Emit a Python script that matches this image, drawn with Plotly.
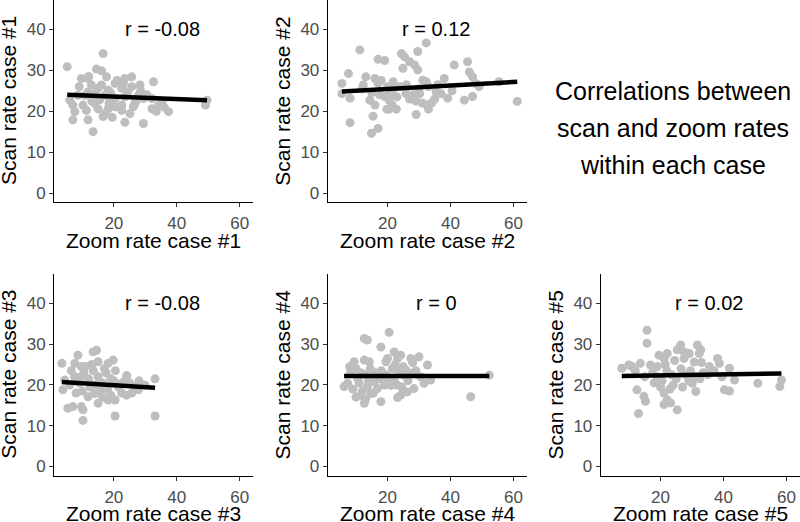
import plotly.graph_objects as go

# ---------------- data ----------------
zoom1 = [16.6, 5.2, 14.5, 16.1, 9.7, 11.8, 17.7, 23.5, 25.7, 32.6, 28.3, 20.4, 49.6, 49.1, 37.4, 32.1, 34.2, 29.4, 23.5, 13.4,
         7.0, 11.8, 16.6, 7.0, 7.6, 6.0, 10.2, 14.0, 20.4, 22.5, 26.2, 32.1, 35.3, 27.8, 15.0, 18.2, 22.5, 12.9, 25.7, 10.8,
         14.0, 17.2, 11.8, 16.1, 23.5, 20.4, 8.6, 11.3, 15.0, 18.2, 17.2, 26.7, 29.4, 25.1, 22.5,
         13.0, 19.0, 24.5, 21.0, 30.5, 9.0, 12.0, 27.0, 18.5, 33.5, 19.5, 15.5, 23.0, 28.5, 36.0]
scan1 = [34.1, 30.9, 30.3, 29.9, 28.0, 28.0, 28.4, 28.0, 28.4, 27.2, 26.4, 26.8, 22.7, 21.5, 19.9, 20.6, 21.5, 17.0, 17.3, 15.0,
         17.9, 17.9, 18.7, 21.5, 19.9, 22.7, 21.5, 21.9, 21.1, 21.5, 21.1, 23.1, 22.3, 23.9, 25.6, 25.2, 25.6, 26.4, 26.0, 23.9,
         24.3, 23.9, 24.7, 26.4, 23.5, 23.1, 23.9, 20.2, 20.6, 20.6, 19.4, 21.9, 23.1, 19.4, 20.2,
         22.5, 24.5, 24.8, 27.5, 24.0, 26.0, 28.5, 22.5, 22.0, 20.0, 18.5, 22.8, 26.8, 25.0, 21.0]

zoom2 = [32.3, 11.2, 24.4, 25.4, 29.6, 17.0, 19.1, 27.0, 28.6, 24.9, 29.6, 41.2, 45.4, 46.0, 47.0, 7.6, 5.5, 13.1, 16.0, 17.0,
         21.8, 31.2, 32.3, 38.0, 55.4, 48.0, 49.1, 8.1, 14.4, 16.0, 17.5, 19.1, 20.5, 21.5, 20.5, 22.8, 19.8, 25.9, 28.1, 30.2,
         27.0, 29.0, 31.0, 32.5, 34.0, 33.0, 35.4, 37.0, 39.1, 44.4, 47.0, 61.2, 15.4, 29.1, 8.1, 14.9, 17.0, 5.5, 12.3,
         22.0, 24.0, 26.0, 23.0, 21.0, 33.0, 36.0, 18.0, 15.0, 30.0, 40.5, 35.0, 12.0, 20.0]
scan2 = [36.7, 35.0, 34.1, 33.3, 34.6, 32.7, 32.4, 32.1, 31.3, 30.5, 30.1, 31.3, 32.1, 29.6, 28.4, 29.2, 26.8, 28.4, 28.0, 26.8,
         27.2, 27.6, 27.2, 28.0, 27.2, 26.8, 26.0, 23.2, 22.7, 21.5, 24.0, 23.6, 22.7, 21.5, 20.5, 20.5, 20.5, 24.3, 24.0, 24.3,
         23.0, 22.5, 22.0, 21.5, 22.0, 20.5, 24.8, 24.3, 23.2, 22.7, 23.6, 22.4, 18.8, 19.2, 17.2, 14.6, 15.8, 24.3, 26.4,
         25.5, 26.0, 26.5, 23.5, 24.5, 26.0, 26.5, 27.5, 24.5, 25.5, 25.0, 23.0, 25.5, 26.0]

zoom3 = [13.4, 14.5, 8.6, 3.5, 7.6, 9.7, 15.0, 18.2, 19.8, 24.1, 33.1, 29.9, 3.8, 4.4, 5.4, 7.0, 9.7, 10.2, 10.2, 20.4,
         33.1, 22.5, 25.7, 27.8, 15.0, 18.2, 20.4, 11.8, 13.9, 22.5, 26.7,
         6.0, 7.5, 9.0, 10.5, 12.0, 13.5, 15.0, 16.5, 17.5, 19.0, 20.5, 21.5, 12.5, 14.0, 16.0, 18.0, 8.0, 10.0, 11.0, 17.0,
         23.5, 25.0, 28.0, 20.0, 6.5, 9.5, 13.0, 16.5, 19.0, 24.0]
scan3 = [28.1, 28.5, 27.3, 25.3, 25.3, 24.5, 25.7, 25.3, 26.1, 22.3, 21.5, 19.9, 18.8, 21.2, 14.3, 14.7, 14.7, 13.9, 11.3, 12.4,
         12.4, 18.0, 18.0, 18.8, 15.5, 16.3, 16.3, 17.1, 17.9, 20.4, 19.6,
         20.0, 22.0, 20.5, 23.0, 21.5, 23.5, 22.0, 20.5, 23.0, 21.5, 23.5, 19.5, 19.5, 20.0, 18.5, 19.0, 18.0, 18.5, 24.5, 24.0,
         21.0, 20.5, 21.0, 21.0, 23.5, 22.0, 25.0, 17.0, 17.5, 17.5]

zoom4 = [20.5, 12.6, 13.6, 17.9, 22.1, 24.2, 23.2, 20.0, 19.5, 27.4, 30.0, 32.7, 9.4, 12.6, 14.2, 31.6, 33.7, 52.3, 46.4, 6.2,
         12.6, 17.9, 23.2, 24.2, 11.5, 14.7, 26.3, 28.4, 8.3, 10.5, 15.8, 20.0, 22.1, 25.3, 27.9, 7.3, 13.6, 16.8, 21.1,
         8.0, 10.0, 11.5, 13.0, 14.5, 16.0, 18.0, 19.5, 21.5, 23.5, 25.0, 26.5, 29.0, 30.5, 9.0, 11.0, 12.0, 14.0, 17.5, 19.0,
         23.0, 24.5, 26.0, 28.0, 22.5, 10.0, 13.0, 15.5]
scan4 = [32.9, 31.4, 31.0, 29.3, 28.1, 27.3, 26.5, 26.5, 25.7, 26.5, 26.9, 24.9, 25.7, 26.1, 25.7, 20.4, 21.2, 22.4, 17.1, 19.6,
         15.5, 15.9, 16.9, 17.5, 17.5, 17.9, 18.3, 19.1, 23.2, 21.6, 20.8, 21.6, 21.2, 22.4, 22.8, 20.4, 19.6, 19.1, 19.9,
         24.5, 24.0, 23.0, 22.5, 24.0, 23.0, 23.5, 22.5, 24.0, 23.5, 24.5, 21.0, 23.5, 22.0, 19.0, 20.5, 18.5, 21.0, 21.5, 20.0,
         20.0, 19.5, 23.5, 25.5, 25.0, 17.0, 16.5, 18.0]

zoom5 = [15.7, 15.7, 26.4, 25.3, 31.7, 32.8, 32.3, 29.1, 27.5, 22.1, 19.5, 21.1, 30.7, 38.1, 38.7, 41.9, 35.5, 7.7, 9.9, 13.6,
         16.8, 43.5, 50.9, 58.4, 57.9, 40.3, 41.9, 12.5, 14.7, 15.2, 21.1, 22.1, 21.1, 23.2, 13.0, 25.3, 30.1, 31.2,
         17.5, 19.0, 20.5, 22.0, 23.5, 25.0, 26.5, 28.0, 29.5, 31.0, 33.5, 35.0, 37.0, 39.5, 18.0, 20.0, 24.0, 27.0, 29.0, 32.5,
         15.0, 12.0, 21.5, 24.5, 27.5, 33.0, 19.0, 23.0, 11.0]
scan5 = [33.4, 30.2, 29.8, 28.6, 29.8, 28.6, 27.7, 27.7, 28.1, 27.7, 27.3, 26.5, 25.6, 26.5, 25.3, 24.1, 24.5, 24.1, 24.9, 25.3,
         24.9, 21.2, 20.4, 21.2, 19.6, 18.8, 18.5, 18.8, 17.2, 16.0, 18.0, 16.4, 15.2, 15.6, 13.0, 13.9, 20.4, 18.4,
         23.0, 22.0, 21.0, 23.5, 22.5, 21.5, 24.0, 22.5, 23.5, 22.0, 23.0, 22.5, 23.5, 22.0, 20.5, 19.5, 20.0, 19.5, 21.0, 21.5,
         22.0, 23.5, 25.0, 26.0, 26.5, 25.5, 24.5, 19.0, 24.5]

# fitted regression lines (end points)
fit_x = [[5.2, 49.6], [5.5, 61.2], [3.5, 33.1], [6.2, 52.3], [7.7, 58.4]]
fit_y = [[24.0, 22.7], [24.8, 27.2], [20.7, 19.3], [22.2, 22.2], [22.2, 22.8]]

r_labels = ["r = -0.08", "r = 0.12", "r = -0.08", "r = 0", "r = 0.02"]
x_titles = ["Zoom rate case #1", "Zoom rate case #2", "Zoom rate case #3", "Zoom rate case #4", "Zoom rate case #5"]
y_titles = ["Scan rate case #1", "Scan rate case #2", "Scan rate case #3", "Scan rate case #4", "Scan rate case #5"]
x_ticks = [20, 40, 60]
y_ticks = [0, 10, 20, 30, 40]
title_lines = ["Correlations between", "scan and zoom rates", "within each case"]

zooms = [zoom1, zoom2, zoom3, zoom4, zoom5]
scans = [scan1, scan2, scan3, scan4, scan5]

# ---------------- layout geometry ----------------
W, H = 800, 522
FONT = "Liberation Sans, Arial, sans-serif"
col_px = [(54, 253), (327.7, 526.7), (600.7, 799.7)]
row_px = [(0, 202), (274, 475.5)]
cells = [(0, 0), (0, 1), (1, 0), (1, 1), (1, 2)]
XR = [1.0, 64.2]
YR = [-2.2, 47.2]

fig = go.Figure()
layout = dict(width=W, height=H, margin=dict(l=0, r=0, t=0, b=0),
              paper_bgcolor="white", plot_bgcolor="white", showlegend=False,
              font=dict(family=FONT, color="black"))
annotations = []

for i, (r, c) in enumerate(cells):
    n = i + 1
    xa = "x" if n == 1 else f"x{n}"
    ya = "y" if n == 1 else f"y{n}"
    x0, x1 = col_px[c]
    y0, y1 = row_px[r]
    layout[f"xaxis{'' if n == 1 else n}"] = dict(
        domain=[x0 / W, x1 / W], range=XR, anchor=ya, showgrid=False, zeroline=False,
        showline=True, linecolor="black", linewidth=1, ticks="outside", ticklen=4,
        tickcolor="#333333", tickvals=x_ticks, ticklabelstandoff=2,
        tickfont=dict(size=17, color="#4D4D4D", family=FONT))
    layout[f"yaxis{'' if n == 1 else n}"] = dict(
        domain=[1 - y1 / H, 1 - y0 / H], range=YR, anchor=xa, showgrid=False, zeroline=False,
        showline=True, linecolor="black", linewidth=1, ticks="outside", ticklen=4,
        tickcolor="#333333", tickvals=y_ticks, tickfont=dict(size=17, color="#4D4D4D", family=FONT))

    fig.add_trace(go.Scatter(x=zooms[i], y=scans[i], mode="markers", xaxis=xa, yaxis=ya,
                             marker=dict(size=9, color="#BEBEBE", line=dict(width=0))))
    fig.add_trace(go.Scatter(x=fit_x[i], y=fit_y[i], mode="lines", xaxis=xa, yaxis=ya,
                             line=dict(color="black", width=4.5)))

    annotations.append(dict(x=35.5, y=40, xref=xa, yref=ya, text=r_labels[i], showarrow=False,
                            font=dict(size=20, color="black", family=FONT)))
    annotations.append(dict(x=(x0 + x1) / 2 / W, y=1 - (y1 + 38) / H, xref="paper", yref="paper",
                            text=x_titles[i], showarrow=False, xanchor="center", yanchor="middle",
                            font=dict(size=21, color="black", family=FONT)))
    annotations.append(dict(x=(x0 - 45) / W, y=1 - (y0 + y1) / 2 / H, xref="paper", yref="paper",
                            text=y_titles[i], showarrow=False, textangle=-90, xanchor="center",
                            yanchor="middle", font=dict(size=21, color="black", family=FONT)))

for k, line in enumerate(title_lines):
    annotations.append(dict(x=673 / W, y=1 - (91 + 37 * k) / H, xref="paper", yref="paper",
                            text=line, showarrow=False, xanchor="center", yanchor="middle",
                            font=dict(size=25, color="black", family=FONT)))

layout["annotations"] = annotations
fig.update_layout(**layout)
fig.write_html("out.html", config={"displayModeBar": False},
               post_script="document.body.style.margin='0';document.body.style.overflow='hidden';")
